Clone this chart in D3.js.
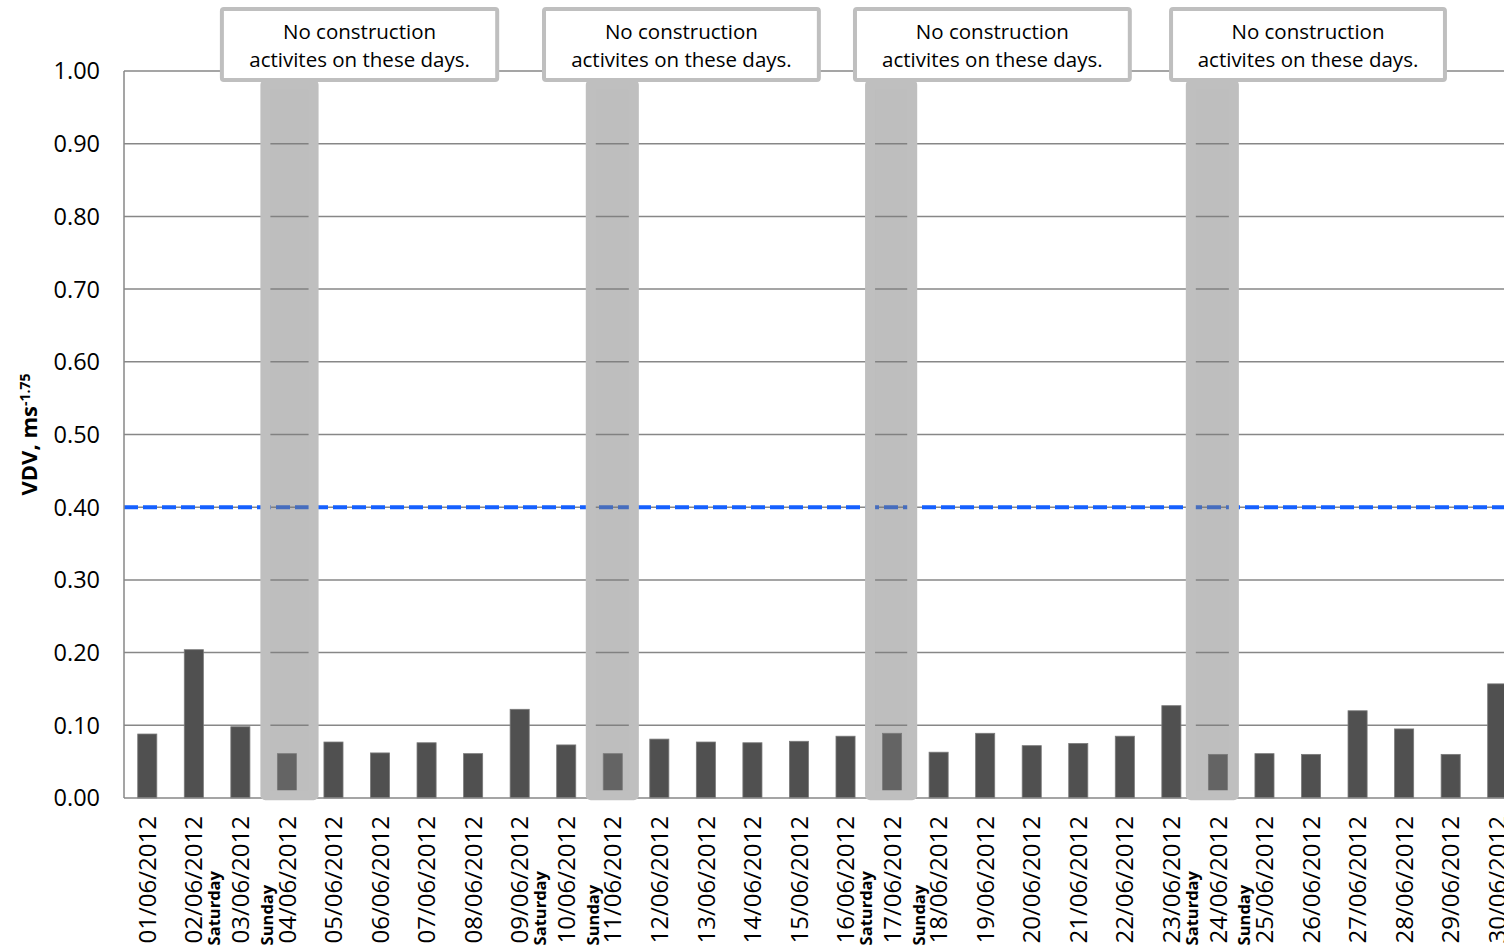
<!DOCTYPE html>
<html>
<head>
<meta charset="utf-8">
<script src="https://cdn.jsdelivr.net/npm/d3@7"></script>
<style>
  html, body { margin: 0; padding: 0; background: #ffffff; overflow: hidden; }
  svg { display: block; }
  text { font-family: "Open Sans", "Liberation Sans", sans-serif; fill: #000; }
</style>
</head>
<body>
<svg id="chart" width="1504" height="950"></svg>
<script>
// ---------------- data ----------------
const dates = [
  "01/06/2012","02/06/2012","03/06/2012","04/06/2012","05/06/2012","06/06/2012",
  "07/06/2012","08/06/2012","09/06/2012","10/06/2012","11/06/2012","12/06/2012",
  "13/06/2012","14/06/2012","15/06/2012","16/06/2012","17/06/2012","18/06/2012",
  "19/06/2012","20/06/2012","21/06/2012","22/06/2012","23/06/2012","24/06/2012",
  "25/06/2012","26/06/2012","27/06/2012","28/06/2012","29/06/2012","30/06/2012"
];
const vdv = [
  0.088, 0.204, 0.098, 0.061, 0.077, 0.062, 0.076, 0.061, 0.122, 0.073,
  0.061, 0.081, 0.077, 0.076, 0.078, 0.085, 0.089, 0.063, 0.089, 0.072,
  0.075, 0.085, 0.127, 0.060, 0.061, 0.060, 0.120, 0.095, 0.060, 0.157
];
const weekdayLabels = {
  "03/06/2012": "Saturday", "04/06/2012": "Sunday",
  "10/06/2012": "Saturday", "11/06/2012": "Sunday",
  "17/06/2012": "Saturday", "18/06/2012": "Sunday",
  "24/06/2012": "Saturday", "25/06/2012": "Sunday"
};
const yTicks = [0, 0.1, 0.2, 0.3, 0.4, 0.5, 0.6, 0.7, 0.8, 0.9, 1.0];
const limitValue = 0.40;
// shaded "no activity" columns, in category units [start, end]
const shadeSpans = [[2.93, 4.18], [9.92, 11.06], [15.92, 17.04], [22.81, 23.95]];
const shadeRange = [-0.003, 0.988];
// annotation boxes, in category units [start, end]
const noteSpans = [[2.06, 8.06], [8.98, 14.97], [15.66, 21.65], [22.45, 28.42]];
const noteLines = ["No construction", "activites on these days."];
const yTitle = "VDV, ms";
const yTitleSup = "-1.75";

// ---------------- layout ----------------
const svg = d3.select("#chart");
const mLeft = 124, mRight = 1520.5, mTop = 71, mBottom = 798;

const x = d3.scaleBand().domain(dates).range([mLeft, mRight])
  .paddingInner(0.59).paddingOuter(0.295);
const u = d3.scaleLinear().domain([0, dates.length]).range([mLeft, mRight]);
const y = d3.scaleLinear().domain([0, 1]).range([mBottom, mTop]);

const gridColor = "#878787";

// gridlines
svg.append("g").selectAll("line").data(yTicks.filter(d => d > 0)).join("line")
  .attr("x1", mLeft).attr("x2", mRight)
  .attr("y1", d => y(d)).attr("y2", d => y(d))
  .attr("stroke", gridColor).attr("stroke-width", 1.5);

// limit line
svg.append("line")
  .attr("x1", mLeft).attr("x2", mRight)
  .attr("y1", y(limitValue)).attr("y2", y(limitValue))
  .attr("stroke", "#1560ff").attr("stroke-width", 4)
  .attr("stroke-dasharray", "14,5");

// bars
svg.append("g").selectAll("rect").data(dates).join("rect")
  .attr("x", d => x(d)).attr("width", x.bandwidth())
  .attr("y", (d, i) => y(vdv[i]))
  .attr("height", (d, i) => y(0) - y(vdv[i]))
  .attr("fill", "#505050").attr("stroke", "#7a7a7a").attr("stroke-width", 0.8);

// axes lines
svg.append("line").attr("x1", mLeft).attr("x2", mRight)
  .attr("y1", y(0)).attr("y2", y(0)).attr("stroke", gridColor).attr("stroke-width", 1.5);
svg.append("line").attr("x1", mLeft).attr("x2", mLeft)
  .attr("y1", y(0)).attr("y2", y(1)).attr("stroke", gridColor).attr("stroke-width", 1.5);

// shaded columns: semi-transparent fill with opaque border
const bw = 5;
svg.append("g").selectAll("rect").data(shadeSpans).join("rect")
  .attr("x", d => u(d[0]) + bw)
  .attr("width", d => u(d[1]) - u(d[0]) - 2 * bw)
  .attr("y", y(shadeRange[1]) + bw)
  .attr("height", y(shadeRange[0]) - y(shadeRange[1]) - 2 * bw)
  .attr("fill", "rgb(123,123,123)").attr("fill-opacity", 0.49)
  .attr("stroke", "#bfbfbf").attr("stroke-width", 2 * bw)
  .attr("stroke-linejoin", "round");

// y tick labels
svg.append("g").selectAll("text").data(yTicks).join("text")
  .attr("x", 100).attr("y", d => y(d)).attr("dy", "0.36em")
  .attr("text-anchor", "end").style("font-size", "23.5px")
  .text(d3.format(".2f"));

// y title
const yt = svg.append("text")
  .attr("transform", `translate(37,${(mTop + mBottom) / 2}) rotate(-90)`)
  .attr("text-anchor", "middle")
  .style("font-size", "22px").style("font-weight", "bold");
yt.append("tspan").text(yTitle);
yt.append("tspan").attr("dy", "-0.5em").style("font-size", "14px").text(yTitleSup);

// x labels
const labelTop = 816;
const xl = svg.append("g");
dates.forEach(d => {
  const cx = x(d) + x.bandwidth() / 2;
  const t = xl.append("text")
    .attr("transform", `translate(${cx},${labelTop}) rotate(-90)`)
    .attr("text-anchor", "end").attr("dy", "0.36em")
    .style("font-size", "24px").text(d);
  const len = t.node().getComputedTextLength();
  if (weekdayLabels[d]) {
    const off = weekdayLabels[d] === "Saturday" ? -20 : -14;
    xl.append("text")
      .attr("transform", `translate(${cx + off},${labelTop + len + 2}) rotate(-90)`)
      .attr("text-anchor", "start")
      .style("font-size", "16.5px").style("font-weight", "bold")
      .text(weekdayLabels[d]);
  }
});

// annotation boxes
const notes = svg.append("g").selectAll("g").data(noteSpans).join("g");
notes.append("rect")
  .attr("x", d => u(d[0]) + 2).attr("width", d => u(d[1]) - u(d[0]) - 4)
  .attr("y", 9).attr("height", 71).attr("rx", 2)
  .attr("fill", "#ffffff").attr("stroke", "#bfbfbf").attr("stroke-width", 4);
noteLines.forEach((line, i) => {
  notes.append("text")
    .attr("x", d => (u(d[0]) + u(d[1])) / 2)
    .attr("y", 39 + i * 28)
    .attr("text-anchor", "middle").style("font-size", "20.5px")
    .text(line);
});
</script>
</body>
</html>
